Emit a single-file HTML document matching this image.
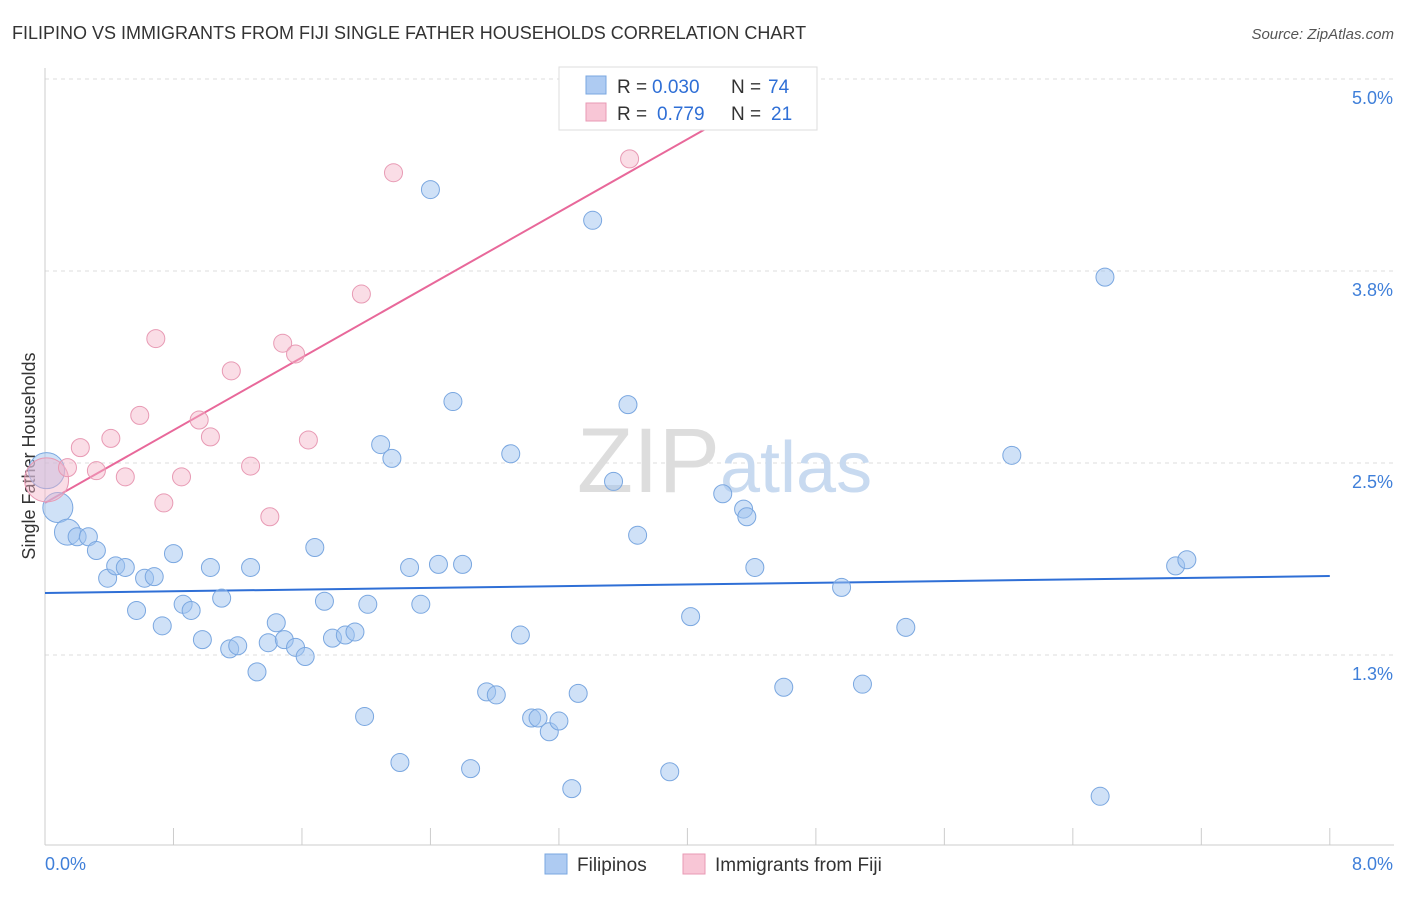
<!DOCTYPE html>
<html><head><meta charset="utf-8"><style>
body{margin:0;background:#fff;font-family:"Liberation Sans",sans-serif;}
svg text{font-family:"Liberation Sans",sans-serif;}
</style></head><body>
<svg id="chart" width="1406" height="892" xmlns="http://www.w3.org/2000/svg">
<text x="12" y="39" font-size="18" fill="#333">FILIPINO VS IMMIGRANTS FROM FIJI SINGLE FATHER HOUSEHOLDS CORRELATION CHART</text>
<text x="1394" y="39" font-size="15" fill="#555" font-style="italic" text-anchor="end">Source: ZipAtlas.com</text>
<text x="35" y="456" font-size="18" fill="#333" transform="rotate(-90 35 456)" text-anchor="middle">Single Father Households</text>
<g id="grid"></g><g id="axes"></g>
<text x="720" y="492" font-size="92" fill="#ddd" text-anchor="end" font-family="Liberation Serif">ZIP</text>
<text x="720" y="492" font-size="72" fill="#c8daf0">atlas</text>
<g id="lines"></g><g id="pts"></g>
<g>
<rect x="559" y="67" width="258" height="63" fill="#fff" stroke="#ddd"/>
<rect x="586" y="76" width="20" height="18" fill="#aecbf2" stroke="#7aa7e0"/>
<rect x="586" y="103" width="20" height="18" fill="#f8c6d6" stroke="#e89ab4"/>
<text x="617" y="93" font-size="19" fill="#333">R =</text>
<text x="652" y="93" font-size="19" fill="#2f6fd6">0.030</text>
<text x="731" y="93" font-size="19" fill="#333">N =</text>
<text x="768" y="93" font-size="19" fill="#2f6fd6">74</text>
<text x="617" y="120" font-size="19" fill="#333">R =</text>
<text x="657" y="120" font-size="19" fill="#2f6fd6">0.779</text>
<text x="731" y="120" font-size="19" fill="#333">N =</text>
<text x="771" y="120" font-size="19" fill="#2f6fd6">21</text>
</g>
<g>
<rect x="545" y="854" width="22" height="20" fill="#aecbf2" stroke="#7aa7e0"/>
<text x="577" y="871" font-size="19" fill="#333">Filipinos</text>
<rect x="683" y="854" width="22" height="20" fill="#f8c6d6" stroke="#e89ab4"/>
<text x="715" y="871" font-size="19" fill="#333">Immigrants from Fiji</text>
</g>
</svg>
<script>
const blueX=[0.08,0.01,0.14,0.2,0.27,0.32,0.39,0.44,0.5,0.57,0.62,0.68,0.73,0.8,0.86,0.91,0.98,1.03,1.1,1.15,1.2,1.28,1.32,1.39,1.44,1.49,1.56,1.62,1.68,1.74,1.79,1.87,1.93,1.99,2.01,2.09,2.16,2.21,2.27,2.34,2.4,2.45,2.54,2.6,2.65,2.75,2.81,2.9,2.96,3.03,3.07,3.14,3.2,3.28,3.32,3.41,3.54,3.63,3.69,3.89,4.02,4.22,4.35,4.37,4.42,4.6,4.96,5.09,5.36,6.02,6.57,6.6,7.04,7.11];
const blueY=[2.21,2.45,2.05,2.02,2.02,1.93,1.75,1.83,1.82,1.54,1.75,1.76,1.44,1.91,1.58,1.54,1.35,1.82,1.62,1.29,1.31,1.82,1.14,1.33,1.46,1.35,1.3,1.24,1.95,1.6,1.36,1.38,1.4,0.85,1.58,2.62,2.53,0.55,1.82,1.58,4.28,1.84,2.9,1.84,0.51,1.01,0.99,2.56,1.38,0.84,0.84,0.75,0.82,0.38,1.0,4.08,2.38,2.88,2.03,0.49,1.5,2.3,2.2,2.15,1.82,1.04,1.69,1.06,1.43,2.55,0.33,3.71,1.83,1.87];
const blueR=[15,18,13,9,9,9,9,9,9,9,9,9,9,9,9,9,9,9,9,9,9,9,9,9,9,9,9,9,9,9,9,9,9,9,9,9,9,9,9,9,9,9,9,9,9,9,9,9,9,9,9,9,9,9,9,9,9,9,9,9,9,9,9,9,9,9,9,9,9,9,9,9,9,9];
const pinkX=[0.01,0.14,0.22,0.32,0.41,0.5,0.59,0.69,0.74,0.85,0.96,1.03,1.16,1.28,1.4,1.48,1.56,1.64,1.97,2.17,3.64];
const pinkY=[2.39,2.47,2.6,2.45,2.66,2.41,2.81,3.31,2.24,2.41,2.78,2.67,3.1,2.48,2.15,3.28,3.21,2.65,3.6,4.39,4.48];
const pinkR=[22,9,9,9,9,9,9,9,9,9,9,9,9,9,9,9,9,9,9,9,9];
const xTicks=["0.0%","8.0%"];
const yTickVals=[5.0,3.75,2.5,1.25];
const yTickLabels=["5.0%","3.8%","2.5%","1.3%"];
const blueLine=[1.654,1.764];
const pinkLine=[2.24,0.592,4.25];
const sx=v=>45+v*160.6, sy=v=>79+(5-v)*153.6;
const NS="http://www.w3.org/2000/svg";
function mk(p,t,a){const e=document.createElementNS(NS,t);for(const k in a)e.setAttribute(k,a[k]);document.getElementById(p).appendChild(e);return e;}
yTickVals.forEach((v,i)=>{
 const g=mk('grid','line',{x1:45,x2:1394,y1:sy(v),y2:sy(v),stroke:'#ddd','stroke-dasharray':'4 4'});
 
 
 const t=mk('grid','text',{x:1393,y:sy(v)+25,'font-size':18,fill:'#3f7fd9','text-anchor':'end'});
 t.textContent=yTickLabels[i];
 
 
});
const ax=mk('axes','line',{x1:45,x2:1394,y1:845,y2:845,stroke:'#ccc'});


mk('axes','line',{x1:45,x2:45,y1:68,y2:845,stroke:'#ccc'});
for(let i=0;i<=10;i++){const t=mk('axes','line',{x1:sx(i*0.8),x2:sx(i*0.8),y1:828,y2:845,stroke:'#ccc'});
 
 }
const xl0=mk('axes','text',{x:45,y:870,'font-size':18,fill:'#3f7fd9'});xl0.textContent=xTicks[0];


const xl1=mk('axes','text',{x:1393,y:870,'font-size':18,fill:'#3f7fd9','text-anchor':'end'});xl1.textContent=xTicks[1];


blueX.forEach((x,i)=>{const c=mk('pts','circle',{cx:sx(x),cy:sy(blueY[i]),r:blueR[i],fill:'rgba(160,195,240,0.5)',stroke:'#7aa7e0','stroke-width':1});
 
 });
pinkX.forEach((x,i)=>{const c=mk('pts','circle',{cx:sx(x),cy:sy(pinkY[i]),r:pinkR[i],fill:'rgba(245,180,200,0.45)',stroke:'#e89ab4','stroke-width':1});
 
 });
const bl=mk('lines','line',{x1:sx(0),y1:sy(blueLine[0]),x2:sx(8),y2:sy(blueLine[1]),stroke:'#2f6fd6','stroke-width':2});


const pl=mk('lines','line',{x1:sx(0),y1:sy(pinkLine[0]),x2:sx(pinkLine[2]),y2:sy(pinkLine[0]+pinkLine[1]*pinkLine[2]),stroke:'#e8689a','stroke-width':2});


</script>
</body></html>
